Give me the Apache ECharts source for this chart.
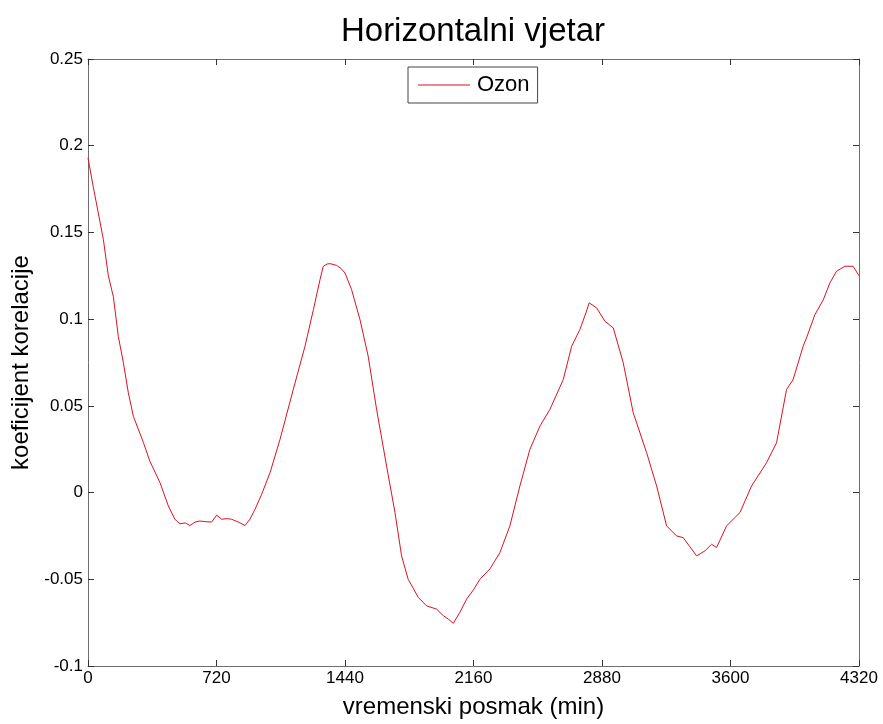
<!DOCTYPE html>
<html>
<head>
<meta charset="utf-8">
<script src="https://cdn.jsdelivr.net/npm/echarts@6/dist/echarts.min.js"></script>
<style>html,body{margin:0;padding:0;background:#fff;}#chart{width:883px;height:724px;}</style>
</head>
<body>
<div id="chart"></div>
<script>
const chartTitle = 'Horizontalni vjetar';
const seriesName = 'Ozon';
const xTicks = [0, 720, 1440, 2160, 2880, 3600, 4320];
const yTicks = [-0.1, -0.05, 0, 0.05, 0.1, 0.15, 0.2, 0.25];
const lagMinutes = [0,30,86,114,142,170,198,226,254,310,347,403,450,487,515,545,571,600,627,660,693,721,749,780,805,842,880,907,936,973,1020,1076,1150,1216,1263,1300,1318,1340,1356,1393,1420,1440,1477,1524,1570,1617,1673,1720,1757,1794,1851,1897,1953,1991,2019,2047,2084,2121,2160,2196,2252,2308,2364,2420,2476,2532,2588,2663,2710,2756,2790,2808,2850,2896,2943,2999,3055,3130,3186,3242,3298,3335,3410,3457,3494,3522,3578,3653,3718,3802,3858,3914,3951,4007,4026,4073,4119,4157,4194,4241,4287,4320];
const ozonCorr = [0.193,0.176,0.146,0.125,0.113,0.090,0.075,0.0575,0.044,0.029,0.018,0.0058,-0.0077,-0.0154,-0.018,-0.0175,-0.019,-0.017,-0.0164,-0.0168,-0.017,-0.013,-0.0154,-0.015,-0.0154,-0.017,-0.019,-0.0154,-0.0096,-0.001,0.0115,0.0307,0.0594,0.0844,0.1055,0.1228,0.1304,0.1318,0.132,0.131,0.129,0.1266,0.117,0.0997,0.0786,0.048,0.0153,-0.0115,-0.0365,-0.05,-0.0605,-0.0653,-0.0672,-0.071,-0.073,-0.0754,-0.069,-0.0615,-0.056,-0.05,-0.044,-0.0346,-0.0192,0.0038,0.0249,0.0383,0.0479,0.0652,0.0844,0.094,0.1036,0.1094,0.1065,0.0988,0.095,0.0748,0.046,0.023,0.0038,-0.0192,-0.025,-0.026,-0.0365,-0.0336,-0.0298,-0.0317,-0.0192,-0.0115,0.0038,0.0172,0.0287,0.0594,0.0652,0.0844,0.0892,0.1026,0.111,0.1209,0.1276,0.1305,0.1305,0.125];

const FONT = 'Liberation Sans, Arial, sans-serif';
const xStep = xTicks[1] - xTicks[0];
const yStep = yTicks[1] - yTicks[0];
const axisLine = { show: true, onZero: false, lineStyle: { color: '#6e6e6e', width: 1 } };
const tick = { show: true, inside: true, length: 6, lineStyle: { color: '#333', width: 1 } };
const fmt = v => String(Math.round(v * 1000) / 1000);

const chart = echarts.init(document.getElementById('chart'), null, { renderer: 'canvas' });
chart.setOption({
  animation: false,
  backgroundColor: '#fff',
  title: {
    text: chartTitle, left: 468, top: 10, textAlign: 'center',
    textStyle: { fontFamily: FONT, fontSize: 33, fontWeight: 'normal', color: '#000' }
  },
  legend: {
    data: [seriesName], left: 408, top: 67,
    icon: 'rect', itemWidth: 52, itemHeight: 1, itemGap: 6,
    padding: [7, 8, 7, 10],
    borderColor: '#444', borderWidth: 1, backgroundColor: '#fff',
    textStyle: { fontFamily: FONT, fontSize: 22, color: '#000', lineHeight: 22, padding: [0, 0, 0, 2] }
  },
  grid: { left: 88, top: 59, right: 24, bottom: 57, containLabel: false },
  xAxis: [{
    type: 'value', min: xTicks[0], max: xTicks[xTicks.length - 1], interval: xStep,
    name: 'vremenski posmak (min)', nameLocation: 'middle', nameGap: 29,
    nameTextStyle: { fontFamily: FONT, fontSize: 24, color: '#000' },
    axisLine: axisLine, axisTick: tick, splitLine: { show: false },
    axisLabel: { fontFamily: FONT, fontSize: 17, color: '#000', margin: 4, formatter: fmt }
  }, {
    type: 'value', position: 'top', min: xTicks[0], max: xTicks[xTicks.length - 1], interval: xStep,
    axisLine: axisLine, axisTick: tick, splitLine: { show: false }, axisLabel: { show: false }
  }],
  yAxis: [{
    type: 'value', min: yTicks[0], max: yTicks[yTicks.length - 1], interval: yStep,
    name: 'koeficijent korelacije', nameLocation: 'middle', nameGap: 55,
    nameTextStyle: { fontFamily: FONT, fontSize: 24, color: '#000' },
    axisLine: axisLine, axisTick: tick, splitLine: { show: false },
    axisLabel: { fontFamily: FONT, fontSize: 17, color: '#000', margin: 5, formatter: fmt }
  }, {
    type: 'value', position: 'right', min: yTicks[0], max: yTicks[yTicks.length - 1], interval: yStep,
    axisLine: axisLine, axisTick: tick, splitLine: { show: false }, axisLabel: { show: false }
  }],
  series: [{
    name: seriesName, type: 'line', xAxisIndex: 0, yAxisIndex: 0,
    data: lagMinutes.map((t, i) => [t, ozonCorr[i]]),
    showSymbol: false, symbol: 'none', smooth: false,
    lineStyle: { color: '#dd1122', width: 1 }, itemStyle: { color: '#dd1122' }
  }]
});
</script>
</body>
</html>
